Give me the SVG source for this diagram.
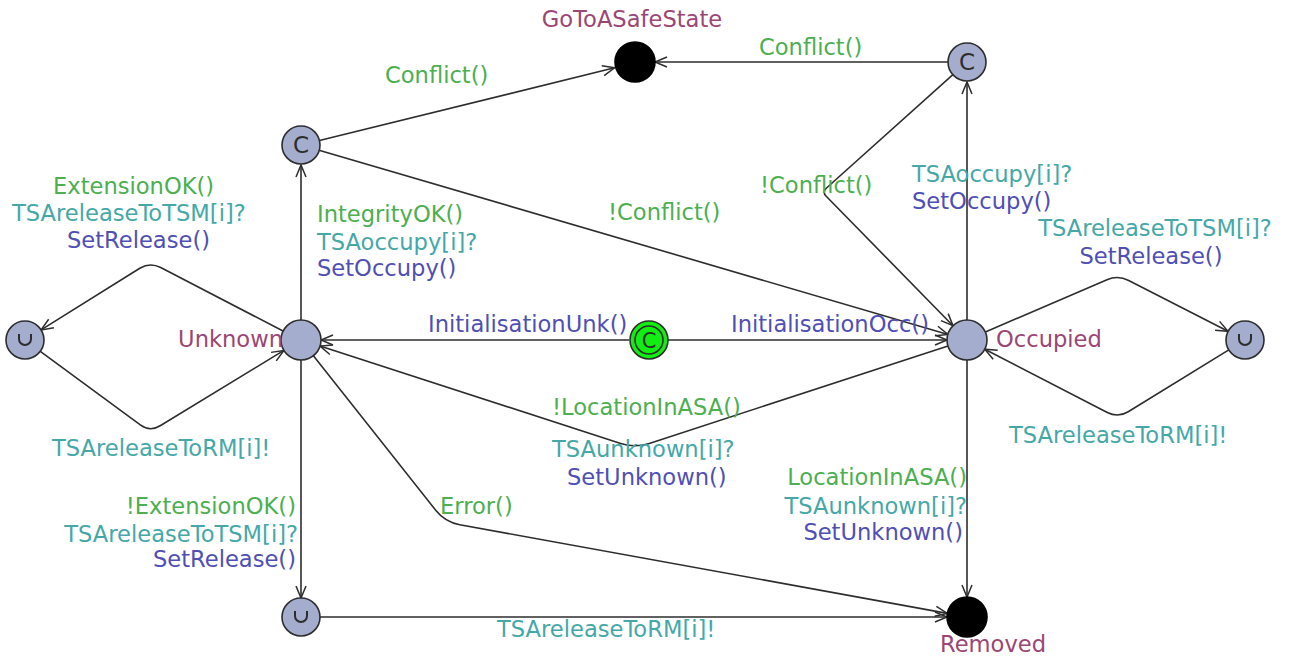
<svg xmlns="http://www.w3.org/2000/svg" width="1301" height="659" viewBox="0 0 1301 659">
<style>
text{font-family:"DejaVu Sans","Liberation Sans",sans-serif;font-size:22.6px}
.g{fill:#4caf50}.t{fill:#45a8a8}.b{fill:#4f4fb5}.n{fill:#9b4674}
.e{fill:none;stroke:#2d2d2d;stroke-width:1.6;marker-end:url(#arr)}
.loc{fill:#a5adce;stroke:#2d2d2d;stroke-width:1.6}
.blk{fill:#000;stroke:#000;stroke-width:1.6}
.sym{fill:#2d2d2d;text-anchor:middle;font-size:23px}
.u{fill:none;stroke:#2d2d2d;stroke-width:2}
</style>
<defs>
<marker id="arr" viewBox="-14 -7 16 14" refX="0" refY="0" markerWidth="16" markerHeight="14" markerUnits="userSpaceOnUse" orient="auto">
<path d="M-12,-5 L0,0 L-12,5" fill="none" stroke="#2d2d2d" stroke-width="1.5"/>
</marker>
</defs>
<rect width="1301" height="659" fill="#fff"/>
<g id="connectors">
<path class="e" d="M629,340 L321,340"/>
<path class="e" d="M668,340 L947,340"/>
<path class="e" d="M301,320 L301,165"/>
<path class="e" d="M319.4,140.5 L614.6,67.8"/>
<path class="e" d="M319,150.3 L948,334.4"/>
<path class="e" d="M948,62 L655,62"/>
<path class="e" d="M952.9,74.7 L826.5,188 Q822,192 826.2,196.3 L953,325.7"/>
<path class="e" d="M967,320 L967,82"/>
<path class="e" d="M985.4,332 L1107,279.7 Q1118,275 1128.7,280.5 L1228,331.3"/>
<path class="e" d="M1228.8,349.9 L1128.2,411.7 Q1118,418 1107.3,412.5 L984.8,349.2"/>
<path class="e" d="M948,346 L649.3,443.4 Q635,448 620.7,443.4 L320,346"/>
<path class="e" d="M967,360 L967,597"/>
<path class="e" d="M283,331 L160.7,267.5 Q150,262 139.8,268.3 L41.1,329.9"/>
<path class="e" d="M40.3,351.3 L140.3,424.9 Q150,432 160.2,425.8 L283.9,350.4"/>
<path class="e" d="M301,360 L301,598"/>
<path class="e" d="M313.4,355.7 L435.7,510.2 Q445,522 459.8,524.7 L947.3,613.4"/>
<path class="e" d="M320,617 L947,617"/>
</g>
<g id="edge-labels">
<text class="g" x="385" y="83">Conflict()</text>
<text class="g" x="759" y="55">Conflict()</text>
<text class="g" x="760" y="193">!Conflict()</text>
<text class="g" x="608" y="220">!Conflict()</text>
<text class="g" x="317" y="222">IntegrityOK()</text>
<text class="t" x="317" y="250">TSAoccupy[i]?</text>
<text class="b" x="317" y="276">SetOccupy()</text>
<text class="t" x="912" y="182">TSAoccupy[i]?</text>
<text class="b" x="912" y="209">SetOccupy()</text>
<text class="t" x="1155" y="236" text-anchor="middle">TSAreleaseToTSM[i]?</text>
<text class="b" x="1151" y="264" text-anchor="middle">SetRelease()</text>
<text class="t" x="1009" y="443">TSAreleaseToRM[i]!</text>
<text class="g" x="53" y="194">ExtensionOK()</text>
<text class="t" x="12" y="221">TSAreleaseToTSM[i]?</text>
<text class="b" x="67" y="248">SetRelease()</text>
<text class="t" x="52" y="456">TSAreleaseToRM[i]!</text>
<text class="b" x="428" y="332">InitialisationUnk()</text>
<text class="b" x="731" y="332">InitialisationOcc()</text>
<text class="g" x="552" y="415">!LocationInASA()</text>
<text class="t" x="552" y="457">TSAunknown[i]?</text>
<text class="b" x="567" y="485">SetUnknown()</text>
<text class="g" x="440" y="514">Error()</text>
<text class="g" x="967" y="485" text-anchor="end">LocationInASA()</text>
<text class="t" x="967" y="514" text-anchor="end">TSAunknown[i]?</text>
<text class="b" x="963" y="540" text-anchor="end">SetUnknown()</text>
<text class="g" x="296" y="514" text-anchor="end">!ExtensionOK()</text>
<text class="t" x="298" y="542" text-anchor="end">TSAreleaseToTSM[i]?</text>
<text class="b" x="296" y="567" text-anchor="end">SetRelease()</text>
<text class="t" x="497" y="637">TSAreleaseToRM[i]!</text>
</g>
<g id="init">
<circle cx="649" cy="340" r="19" fill="#11ee11" stroke="#2d2d2d" stroke-width="1.6"/>
<circle cx="649" cy="340" r="14" fill="none" stroke="#2d2d2d" stroke-width="1.6"/>
<text class="sym" x="649" y="348" style="font-size:21px">C</text>
</g>
<g id="Unknown">
<circle class="loc" cx="301" cy="340" r="20"/>
<text class="n" x="283" y="347" text-anchor="end">Unknown</text>
</g>
<g id="Occupied">
<circle class="loc" cx="967" cy="340" r="20"/>
<text class="n" x="996" y="347">Occupied</text>
</g>
<g id="CommittedLeft">
<circle class="loc" cx="301" cy="145" r="19"/>
<text class="sym" x="301" y="153">C</text>
</g>
<g id="CommittedRight">
<circle class="loc" cx="967" cy="62" r="19"/>
<text class="sym" x="967" y="70">C</text>
</g>
<g id="GoToASafeState">
<circle class="blk" cx="635" cy="62" r="20"/>
<text class="n" x="632" y="27" text-anchor="middle">GoToASafeState</text>
</g>
<g id="Removed">
<circle class="blk" cx="967" cy="617" r="20"/>
<text class="n" x="993" y="652" text-anchor="middle">Removed</text>
</g>
<g id="UrgentLeft">
<circle class="loc" cx="25" cy="340" r="19"/>
<path class="u" d="M19,334 v5 a6,6 0 0 0 12,0 v-5"/>
</g>
<g id="UrgentRight">
<circle class="loc" cx="1245" cy="340" r="19"/>
<path class="u" d="M1239,334 v5 a6,6 0 0 0 12,0 v-5"/>
</g>
<g id="UrgentBottom">
<circle class="loc" cx="301" cy="617" r="19"/>
<path class="u" d="M295,611 v5 a6,6 0 0 0 12,0 v-5"/>
</g>
</svg>
